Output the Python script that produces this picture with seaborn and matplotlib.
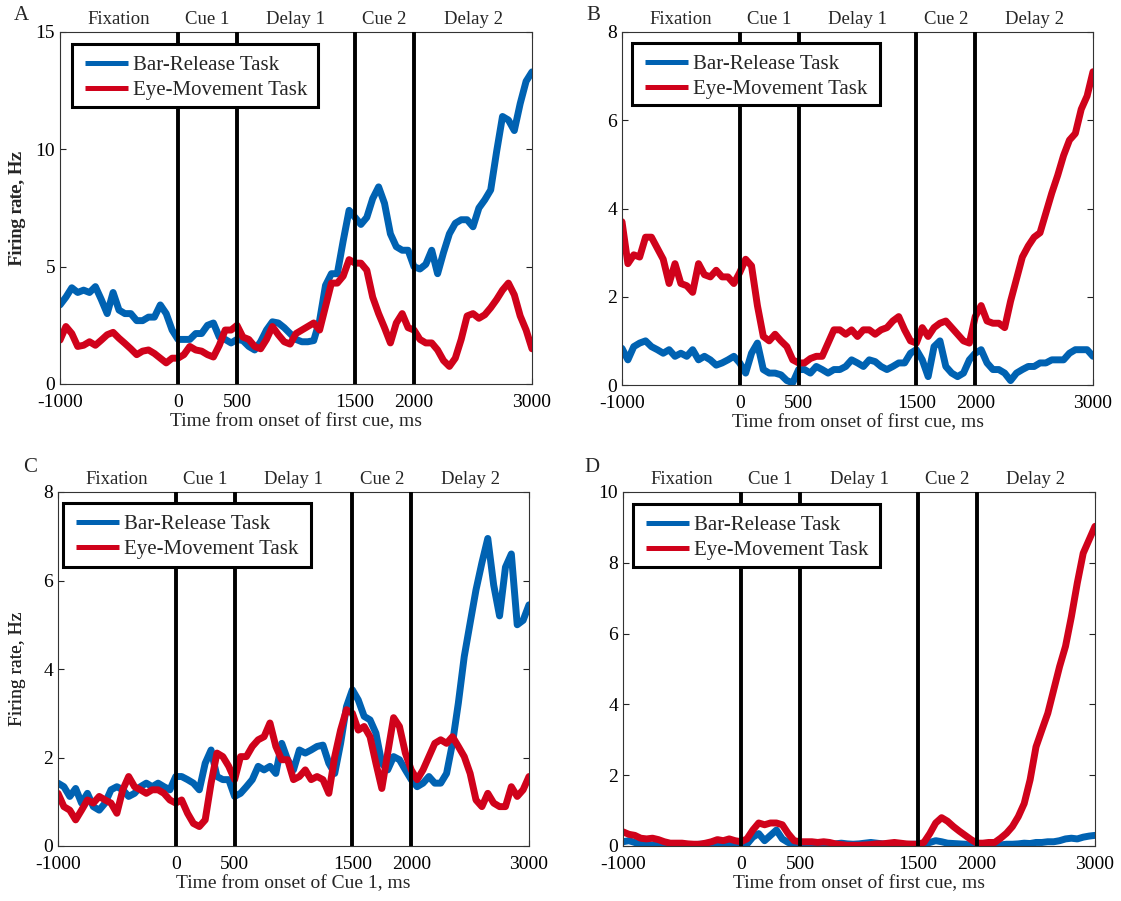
import numpy as np
import pandas as pd
import matplotlib
matplotlib.use("Agg")
import matplotlib.pyplot as plt
from matplotlib.lines import Line2D
from matplotlib.patches import Rectangle
import seaborn as sns

# Time axis (ms from onset of first cue), sampled every 50 ms
time_ms = np.arange(-1000, 3001, 50)

# ---- Panel A ----
a_bar = [3.37, 3.7, 4.1, 3.9, 4.0, 3.9, 4.15, 3.6, 3.0, 3.9,
         3.15, 3.0, 3.0, 2.7, 2.7, 2.85, 2.85, 3.37, 3.0, 2.3,
         1.9, 1.9, 1.9, 2.15, 2.15, 2.5, 2.6, 2.0, 1.9, 1.75,
         1.9, 1.85, 1.6, 1.45, 1.8, 2.3, 2.65, 2.6, 2.4, 2.15,
         1.9, 1.8, 1.8, 1.85, 2.7, 4.2, 4.7, 4.7, 6.1, 7.4,
         7.1, 6.8, 7.1, 7.9, 8.4, 7.7, 6.4, 5.85, 5.7, 5.7,
         5.0, 4.9, 5.1, 5.7, 4.7, 5.6, 6.4, 6.85, 7.0, 7.0,
         6.7, 7.5, 7.85, 8.27, 9.9, 11.4, 11.25, 10.8, 11.95, 12.9,
         13.3]
a_eye = [1.87, 2.45, 2.15, 1.6, 1.65, 1.8, 1.65, 1.87, 2.1, 2.2,
         1.95, 1.73, 1.5, 1.25, 1.4, 1.45, 1.3, 1.1, 0.9, 1.1,
         1.1, 1.25, 1.6, 1.45, 1.4, 1.25, 1.15, 1.65, 2.3, 2.3,
         2.5, 2.0, 1.9, 1.6, 1.5, 1.9, 2.45, 2.1, 1.8, 1.7,
         2.15, 2.3, 2.45, 2.6, 2.3, 3.3, 4.3, 4.3, 4.6, 5.3,
         5.15, 5.15, 4.85, 3.7, 3.0, 2.4, 1.75, 2.6, 3.0, 2.4,
         2.3, 1.9, 1.75, 1.75, 1.45, 1.0, 0.75, 1.1, 1.9, 2.9,
         3.0, 2.8, 2.95, 3.25, 3.6, 4.0, 4.3, 3.8, 2.9, 2.3,
         1.5]

# ---- Panel B ----
b_bar = [0.83, 0.57, 0.87, 0.95, 1.0, 0.87, 0.8, 0.72, 0.8, 0.65,
         0.72, 0.65, 0.8, 0.57, 0.65, 0.57, 0.45, 0.5, 0.57, 0.65,
         0.5, 0.27, 0.72, 0.95, 0.35, 0.27, 0.27, 0.23, 0.1, 0.05,
         0.35, 0.35, 0.27, 0.42, 0.35, 0.27, 0.35, 0.35, 0.42, 0.57,
         0.5, 0.42, 0.57, 0.53, 0.42, 0.35, 0.42, 0.5, 0.5, 0.72,
         0.8, 0.57, 0.19, 0.87, 1.0, 0.42, 0.27, 0.19, 0.27, 0.57,
         0.72, 0.8, 0.5, 0.35, 0.35, 0.27, 0.1, 0.27, 0.35, 0.42,
         0.42, 0.5, 0.5, 0.57, 0.57, 0.57, 0.72, 0.8, 0.8, 0.8,
         0.65]
b_eye = [3.7, 2.75, 2.95, 2.9, 3.35, 3.35, 3.1, 2.85, 2.3, 2.75,
         2.3, 2.25, 2.1, 2.75, 2.5, 2.45, 2.6, 2.45, 2.45, 2.3,
         2.55, 2.85, 2.7, 1.8, 1.1, 1.0, 1.15, 1.0, 0.87, 0.57,
         0.5, 0.5, 0.6, 0.65, 0.65, 0.95, 1.25, 1.25, 1.15, 1.25,
         1.1, 1.25, 1.25, 1.15, 1.25, 1.3, 1.45, 1.55, 1.25, 1.0,
         0.95, 1.3, 1.1, 1.3, 1.4, 1.45, 1.3, 1.15, 1.0, 0.95,
         1.55, 1.8, 1.45, 1.4, 1.4, 1.3, 1.9, 2.4, 2.9, 3.15,
         3.35, 3.45, 3.9, 4.35, 4.75, 5.2, 5.55, 5.7, 6.25, 6.55,
         7.1]

# ---- Panel C ----
c_bar = [1.42, 1.34, 1.12, 1.3, 0.97, 1.19, 0.89, 0.81, 0.97, 1.27,
         1.34, 1.27, 1.12, 1.19, 1.34, 1.42, 1.34, 1.42, 1.34, 1.27,
         1.57, 1.57, 1.5, 1.42, 1.27, 1.87, 2.17, 1.57, 1.5, 1.5,
         1.12, 1.19, 1.34, 1.5, 1.8, 1.72, 1.8, 1.64, 2.32, 1.95,
         1.72, 2.17, 2.1, 2.17, 2.25, 2.28, 1.87, 1.64, 2.32, 3.15,
         3.53, 3.3, 2.93, 2.85, 2.55, 1.87, 1.72, 2.02, 1.95, 1.72,
         1.5, 1.34, 1.42, 1.57, 1.42, 1.42, 1.64, 2.32, 3.23, 4.28,
         5.04, 5.79, 6.4, 6.95, 5.9, 5.2, 6.3, 6.6, 5.0, 5.1,
         5.45]
c_eye = [1.19, 0.89, 0.81, 0.59, 0.81, 1.04, 0.97, 1.12, 1.04, 0.97,
         0.74, 1.27, 1.57, 1.34, 1.27, 1.19, 1.27, 1.27, 1.19, 1.04,
         0.97, 1.04, 0.74, 0.51, 0.44, 0.59, 1.42, 2.1, 2.02, 1.8,
         1.5, 2.02, 2.02, 2.25, 2.4, 2.47, 2.78, 2.25, 1.95, 1.95,
         1.5, 1.57, 1.72, 1.5, 1.57, 1.5, 1.19, 2.02, 2.62, 3.08,
         3.0, 2.62, 2.7, 2.47, 1.87, 1.3, 2.1, 2.9, 2.7, 2.1,
         1.72, 1.5, 1.72, 2.02, 2.32, 2.4, 2.32, 2.47, 2.25, 2.02,
         1.64, 1.04, 0.89, 1.19, 0.97, 0.89, 0.89, 1.34, 1.12, 1.27,
         1.57]

# ---- Panel D ----
d_bar = [0.12, 0.15, 0.1, 0.05, 0.02, 0.03, 0.05, 0.03, 0.0, 0.02,
         0.03, 0.02, 0.03, 0.05, 0.05, 0.08, 0.1, 0.08, 0.05, 0.03,
         0.0, 0.05, 0.25, 0.35, 0.15, 0.3, 0.45, 0.2, 0.1, 0.05,
         0.05, 0.03, 0.05, 0.0, 0.02, 0.05, 0.06, 0.08, 0.06, 0.05,
         0.06, 0.08, 0.1, 0.08, 0.06, 0.05, 0.06, 0.05, 0.04, 0.05,
         0.05, 0.05, 0.1, 0.15, 0.12, 0.08, 0.07, 0.06, 0.05, 0.02,
         0.0, 0.0, 0.0, 0.03, 0.03, 0.05, 0.05, 0.06, 0.08, 0.07,
         0.1, 0.1, 0.12, 0.12, 0.15, 0.2, 0.22, 0.2, 0.25, 0.28,
         0.3]
d_eye = [0.4, 0.33, 0.3, 0.22, 0.2, 0.22, 0.18, 0.12, 0.08, 0.08,
         0.08, 0.06, 0.05, 0.05, 0.08, 0.12, 0.18, 0.15, 0.2, 0.15,
         0.12, 0.2, 0.45, 0.65, 0.6, 0.65, 0.65, 0.6, 0.35, 0.15,
         0.12, 0.12, 0.12, 0.1, 0.12, 0.1, 0.06, 0.04, 0.02, 0.02,
         0.02, 0.03, 0.04, 0.06, 0.06, 0.08, 0.1, 0.08, 0.06, 0.05,
         0.05, 0.1, 0.35, 0.65, 0.8, 0.7, 0.55, 0.42, 0.3, 0.18,
         0.08, 0.08, 0.1, 0.1, 0.22, 0.36, 0.55, 0.83, 1.2, 1.87,
         2.8, 3.28, 3.75, 4.41, 5.07, 5.64, 6.48, 7.43, 8.27, 8.65,
         9.03]

tasks = ["Bar-Release Task", "Eye-Movement Task"]
task_colors = ["#0062b2", "#d0021b"]

epoch_bounds = [0, 500, 1500, 2000]
epoch_names = ["Fixation", "Cue 1", "Delay 1", "Cue 2", "Delay 2"]
epoch_centers = [-500, 250, 1000, 1750, 2500]

x_ticks = [-1000, 0, 500, 1500, 2000, 3000]

panel_letters = ["A", "B", "C", "D"]
panel_series = [(a_bar, a_eye), (b_bar, b_eye), (c_bar, c_eye), (d_bar, d_eye)]
panel_ymax = [15, 8, 8, 10]
panel_ystep = [5, 2, 2, 2]
panel_xlabels = ["Time from onset of first cue, ms",
                 "Time from onset of first cue, ms",
                 "Time from onset of Cue 1, ms",
                 "Time from onset of first cue, ms"]

sns.set_theme(style="white")
plt.rcParams["font.family"] = ["Liberation Serif", "DejaVu Serif"]
plt.rcParams["axes.unicode_minus"] = False

W, H = 1121, 901
fig = plt.figure(figsize=(W / 100, H / 100), dpi=100)
fig.patch.set_facecolor("white")

# layout in pixels
boxes = [(60, 532, 32, 384), (622, 1093, 32, 385),
         (58, 529, 492, 846), (623, 1095, 492, 846)]      # left, right, top, bottom
legend_boxes = [(72, 318, 44, 107), (632, 880, 43, 105),
                (63, 311, 503, 567), (633, 880, 504, 567)]  # left, right, top, bottom
letter_px = [(21, 15), (593, 15), (30, 468), (592, 468)]

for i in range(4):
    l, r, t, b = boxes[i]
    w, h = r - l, b - t
    ax = fig.add_axes([l / W, 1 - b / H, w / W, h / H])
    bar, eye = panel_series[i]
    df = pd.DataFrame({
        "time": np.concatenate([time_ms, time_ms]),
        "rate": np.concatenate([bar, eye]),
        "task": [tasks[0]] * len(time_ms) + [tasks[1]] * len(time_ms),
    })
    sns.lineplot(data=df, x="time", y="rate", hue="task", hue_order=tasks,
                 palette=task_colors, linewidth=5, legend=False,
                 errorbar=None, ax=ax, zorder=2)
    for xb in epoch_bounds:
        ax.axvline(xb, color="black", linewidth=2.8, zorder=3)

    ax.set_xlim(-1000, 3000)
    ax.set_ylim(0, panel_ymax[i])
    ax.set_xticks(x_ticks)
    ax.set_xticklabels([str(v) for v in x_ticks])
    yt = np.arange(0, panel_ymax[i] + 0.1, panel_ystep[i])
    ax.set_yticks(yt)
    ax.set_yticklabels([str(int(v)) for v in yt])
    ax.tick_params(direction="in", length=4, width=0.8, colors="#222222",
                   labelcolor="black", labelsize=14,
                   right=True, top=True, left=True, bottom=True)
    ax.tick_params(axis="x", pad=7.5)
    ax.tick_params(axis="y", pad=3.5)
    for s in ax.spines.values():
        s.set_color("#333333")
        s.set_linewidth(0.8)

    ax.set_xlabel(panel_xlabels[i], fontsize=14, va="center")
    ax.set_ylabel("Firing rate, Hz", fontsize=14, va="center")
    ax.xaxis.set_label_coords(0.5, -38 / h)
    ax.yaxis.set_label_coords(-(l - 18) / w, 0.5)

    for name, xc in zip(epoch_names, epoch_centers):
        ax.annotate(name, xy=(xc, 1), xycoords=("data", "axes fraction"),
                    xytext=(0, 12), textcoords="offset pixels",
                    ha="center", va="center", fontsize=13.5)

    # legend: white box with a heavy black frame, two colour swatches
    bl, br, bt, bb = legend_boxes[i]
    ax.add_patch(Rectangle(((bl - l) / w, 1 - (bb - t) / h),
                           (br - bl) / w, (bb - bt) / h,
                           transform=ax.transAxes, facecolor="white",
                           edgecolor="black", linewidth=2.2, zorder=5,
                           clip_on=False))
    for k, (name, col) in enumerate(zip(tasks, task_colors)):
        yy = 1 - (bt + 19 + 25 * k - t) / h
        ax.add_line(Line2D([(bl + 13 - l) / w, (bl + 56 - l) / w], [yy, yy],
                           transform=ax.transAxes, color=col,
                           linewidth=3.6, solid_capstyle="butt", zorder=6))
        ax.text((bl + 61 - l) / w, yy, name, transform=ax.transAxes,
                ha="left", va="center_baseline", fontsize=15, zorder=6)

    fig.text(letter_px[i][0] / W, 1 - letter_px[i][1] / H, panel_letters[i],
             ha="center", va="center", fontsize=15)

fig.savefig("out.png", dpi=100, facecolor="white")
